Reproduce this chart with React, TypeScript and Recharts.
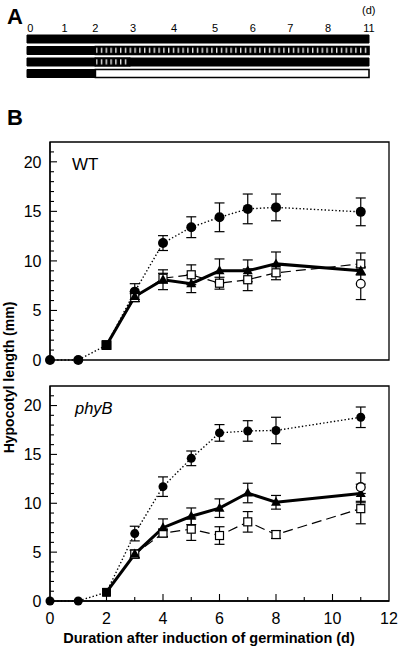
import React from 'react'
import {
  BarChart,
  Bar,
  Cell,
  XAxis,
  YAxis,
  ComposedChart,
  Line,
  ErrorBar,
  ReferenceArea,
} from 'recharts'

// ---- panel A: light regimes (schematic time bar) ----
const SCHEME_ROWS = ['dark', 'pulses', 'pulses-1d', 'light']
const SEG_FIRST = [10, 2, 2, 2]
const SEG_MID = [0, 8, 1, 8]
const SEG_MID_KIND = ['dark', 'stripe', 'stripe', 'white']
const SEG_LAST = [0, 0, 7, 0]
const SCHEME_TICKS = [0.1, 1.1, 2, 3.1, 4.3, 5.5, 6.6, 7.7, 8.8, 10]
const SCHEME_LABELS = ['0', '1', '2', '3', '4', '5', '6', '7', '8', '11']

// ---- panel B: hypocotyl length (mm) ----
const DAYS = [0, 1, 2, 3, 4, 5, 6, 7, 8, 11]
const X_TICKS = [0, 1, 2, 3, 4, 5, 6, 7, 8, 9, 10, 11, 12]
const Y_TICKS = [0, 1, 2, 3, 4, 5, 6, 7, 8, 9, 10, 11, 12, 13, 14, 15, 16, 17, 18, 19, 20, 21]

const WT_DARK = [0, 0, 1.5, 6.9, 11.8, 13.4, 14.4, 15.25, 15.4, 14.95]
const WT_DARK_ERR = [0, 0, 0, 0.8, 0.75, 1.05, 1.45, 1.5, 1.35, 1.4]
const WT_PULSE = [null, null, 1.5, 6.3, 8.25, 8.6, 7.75, 8.1, 8.8, 9.7]
const WT_PULSE_ERR = [null, null, 0, 0.4, 0.5, 1.0, 0.6, 1.1, 0.7, 1.1]
const WT_LIGHT = [null, null, 1.5, 6.4, 8.1, 7.7, 9.0, 9.0, 9.7, 9.0]
const WT_LIGHT_ERR = [null, null, 0, 0.5, 1.0, 0.9, 1.2, 1.1, 1.2, 0.4]
const WT_END = [null, null, null, null, null, null, null, null, null, 7.7]
const WT_END_ERR = [null, null, null, null, null, null, null, null, null, 1.6]

const PB_DARK = [0, 0, 0.9, 6.9, 11.7, 14.6, 17.2, 17.4, 17.45, 18.8]
const PB_DARK_ERR = [0, 0, 0, 0.75, 1.0, 0.75, 0.85, 1.05, 1.35, 1.05]
const PB_PULSE = [null, null, 0.9, 4.8, 6.95, 7.35, 6.7, 8.1, 6.8, 9.45]
const PB_PULSE_ERR = [null, null, 0, 0.4, 0.4, 1.15, 0.9, 1.05, 0.4, 1.55]
const PB_LIGHT = [null, null, 0.9, 4.8, 7.5, 8.67, 9.5, 11.05, 10.1, 11.0]
const PB_LIGHT_ERR = [null, null, 0, 0.4, 0.9, 0.85, 0.95, 1.0, 0.7, 0.95]
const PB_END = [null, null, null, null, null, null, null, null, null, 11.65]
const PB_END_ERR = [null, null, null, null, null, null, null, null, null, 1.45]

const FONT = '"Liberation Sans", Arial, Helvetica, sans-serif'

const series = (vals: (number | null)[], errs: (number | null)[]) =>
  DAYS.map((day, i) => ({ day, v: vals[i], e: errs[i] })).filter((p) => p.v != null)

const renderDot = (kind: string, r: number, sq: number) => (p: any) => {
  const { cx, cy, payload, index } = p
  const key = `${kind}-${index}`
  if (cx == null || cy == null || !payload) return <g key={key} />
  if (payload.day === 2)
    return <rect key={key} x={cx - sq / 2} y={cy - sq / 2} width={sq} height={sq} fill="#000" />
  if (kind === 'filledCircle') return <circle key={key} cx={cx} cy={cy} r={r} fill="#000" />
  if (kind === 'openCircle')
    return <circle key={key} cx={cx} cy={cy} r={4.4} fill="#fff" stroke="#000" strokeWidth={1.3} />
  if (kind === 'openSquare')
    return <rect key={key} x={cx - 4} y={cy - 4} width={8} height={8} fill="#fff" stroke="#000" strokeWidth={1.2} />
  return (
    <polygon
      key={key}
      points={`${cx},${cy - 5.5} ${cx - 5},${cy + 3.5} ${cx + 5},${cy + 3.5}`}
      fill="#000"
    />
  )
}

const XTick = ({ x, y, payload, showLabel }: any) => {
  const v = payload.value
  const major = v % 2 === 0
  const edge = v === 0 || v === 12
  return (
    <g>
      {!edge && <line x1={x} x2={x} y1={y} y2={y - (major ? 7 : 4)} stroke="#000" strokeWidth={1.1} />}
      {showLabel && major && (
        <text x={x} y={y + 22.5} textAnchor="middle" fontSize={16} fill="#000">
          {v}
        </text>
      )}
    </g>
  )
}

const YTick = ({ x, y, payload }: any) => {
  const v = payload.value
  const major = v % 5 === 0
  return (
    <g>
      {v !== 0 && <line x1={x} x2={x + (major ? 7 : 4)} y1={y} y2={y} stroke="#000" strokeWidth={1.1} />}
      {major && (
        <text x={x - 8.5} y={y + 5.8} textAnchor="end" fontSize={16} fill="#000">
          {v}
        </text>
      )}
    </g>
  )
}

interface PanelProps {
  height: number
  marginTop: number
  marginBottom: number
  xHeight: number
  showX: boolean
  dark: any[]
  pulse: any[]
  light: any[]
  end: any[]
  r: number
  sq: number
}

function GrowthPanel({ height, marginTop, marginBottom, xHeight, showX, dark, pulse, light, end, r, sq }: PanelProps) {
  const bar = <ErrorBar dataKey="e" width={5} stroke="#000" strokeWidth={1.2} direction="y" />
  return (
    <ComposedChart
      width={400}
      height={height}
      margin={{ top: marginTop, right: 11, bottom: marginBottom, left: 8 }}
    >
      <XAxis
        dataKey="day"
        type="number"
        domain={[0, 12]}
        ticks={X_TICKS}
        interval={0}
        tickSize={0}
        tickMargin={0}
        height={xHeight}
        axisLine={{ stroke: '#000', strokeWidth: 1.3 }}
        tickLine={false}
        tick={(p: any) => <XTick {...p} showLabel={showX} />}
      />
      <YAxis
        type="number"
        domain={[0, 22]}
        ticks={Y_TICKS}
        interval={0}
        tickSize={0}
        tickMargin={0}
        width={42}
        axisLine={{ stroke: '#000', strokeWidth: 1.3 }}
        tickLine={false}
        tick={(p: any) => <YTick {...p} />}
      />
      <ReferenceArea x1={0} x2={12} y1={0} y2={22} fill="none" stroke="#000" strokeWidth={1.3} ifOverflow="visible" />
      <Line
        data={dark}
        dataKey="v"
        stroke="#000"
        strokeWidth={1.4}
        strokeDasharray="1.4 2.2"
        dot={renderDot('filledCircle', r, sq)}
        isAnimationActive={false}
      >
        {bar}
      </Line>
      <Line
        data={pulse}
        dataKey="v"
        stroke="#000"
        strokeWidth={1.2}
        strokeDasharray="10 5"
        dot={renderDot('openSquare', r, sq)}
        isAnimationActive={false}
      >
        {bar}
      </Line>
      <Line
        data={light}
        dataKey="v"
        stroke="#000"
        strokeWidth={3}
        dot={renderDot('triangle', r, sq)}
        isAnimationActive={false}
      >
        {bar}
      </Line>
      <Line
        data={end}
        dataKey="v"
        stroke="none"
        dot={renderDot('openCircle', r, sq)}
        isAnimationActive={false}
      >
        {bar}
      </Line>
    </ComposedChart>
  )
}

const MID_FILL: Record<string, string> = { dark: '#000', stripe: 'url(#stripes)', white: '#fff' }

function SchemePanel() {
  const data = SCHEME_ROWS.map((row, i) => ({ row, a: SEG_FIRST[i], b: SEG_MID[i], c: SEG_LAST[i] }))
  return (
    <BarChart
      layout="vertical"
      width={400}
      height={90}
      data={data}
      margin={{ top: 8, right: 31, bottom: 11, left: 27 }}
      barSize={8}
    >
      <XAxis
        type="number"
        orientation="top"
        domain={[0, 10]}
        ticks={SCHEME_TICKS}
        interval={0}
        height={25}
        axisLine={false}
        tickLine={false}
        tickSize={0}
        tickMargin={1.5}
        tickFormatter={(_v: number, i: number) => SCHEME_LABELS[i]}
        tick={{ fill: '#000', fontSize: 11 }}
      />
      <YAxis type="category" dataKey="row" hide />
      <Bar dataKey="a" stackId="s" fill="#000" stroke="#000" strokeWidth={1} isAnimationActive={false} />
      <Bar dataKey="b" stackId="s" stroke="#000" strokeWidth={1.6} isAnimationActive={false}>
        {data.map((_, i) => (
          <Cell key={i} fill={MID_FILL[SEG_MID_KIND[i]]} />
        ))}
      </Bar>
      <Bar dataKey="c" stackId="s" fill="#000" stroke="#000" strokeWidth={1} isAnimationActive={false} />
    </BarChart>
  )
}

export default function App() {
  return (
    <div
      style={{
        position: 'absolute',
        left: 0,
        top: 0,
        width: 400,
        height: 653,
        background: '#fff',
        fontFamily: FONT,
        overflow: 'hidden',
      }}
    >
      <svg width={0} height={0} style={{ position: 'absolute' }}>
        <defs>
          <pattern id="stripes" patternUnits="userSpaceOnUse" x={0} y={33} width={4.8} height={11.5}>
            <rect width={4.8} height={11.5} fill="#000" />
            <rect x={0} y={3.2} width={1.4} height={5.2} fill="#e8e8e8" />
          </pattern>
        </defs>
      </svg>

      <div style={{ position: 'absolute', left: 0, top: 0 }}>
        <SchemePanel />
      </div>

      <div style={{ position: 'absolute', left: 0, top: 130 }}>
        <GrowthPanel
          height={240}
          marginTop={12}
          marginBottom={10}
          xHeight={0}
          showX={false}
          dark={series(WT_DARK, WT_DARK_ERR)}
          pulse={series(WT_PULSE, WT_PULSE_ERR)}
          light={series(WT_LIGHT, WT_LIGHT_ERR)}
          end={series(WT_END, WT_END_ERR)}
          r={5}
          sq={9.5}
        />
      </div>

      <div style={{ position: 'absolute', left: 0, top: 376 }}>
        <GrowthPanel
          height={260}
          marginTop={10}
          marginBottom={5}
          xHeight={30}
          showX
          dark={series(PB_DARK, PB_DARK_ERR)}
          pulse={series(PB_PULSE, PB_PULSE_ERR)}
          light={series(PB_LIGHT, PB_LIGHT_ERR)}
          end={series(PB_END, PB_END_ERR)}
          r={4.5}
          sq={8.5}
        />
      </div>

      <svg
        width={400}
        height={653}
        style={{ position: 'absolute', left: 0, top: 0, pointerEvents: 'none' }}
        fontFamily={FONT}
      >
        <text x={7} y={24} fontSize={22} fontWeight="bold">A</text>
        <text x={362} y={14} fontSize={11}>(d)</text>
        <text x={7} y={125} fontSize={22} fontWeight="bold">B</text>
        <text x={72} y={170} fontSize={17}>WT</text>
        <text x={75} y={414} fontSize={16.5} fontStyle="italic">phyB</text>
        <text
          transform="translate(13.5,377.5) rotate(-90)"
          textAnchor="middle"
          fontSize={14}
          fontWeight="bold"
        >
          Hypocotyl length (mm)
        </text>
        <text x={209} y={643} textAnchor="middle" fontSize={14.5} fontWeight="bold">
          Duration after induction of germination (d)
        </text>
      </svg>
    </div>
  )
}
